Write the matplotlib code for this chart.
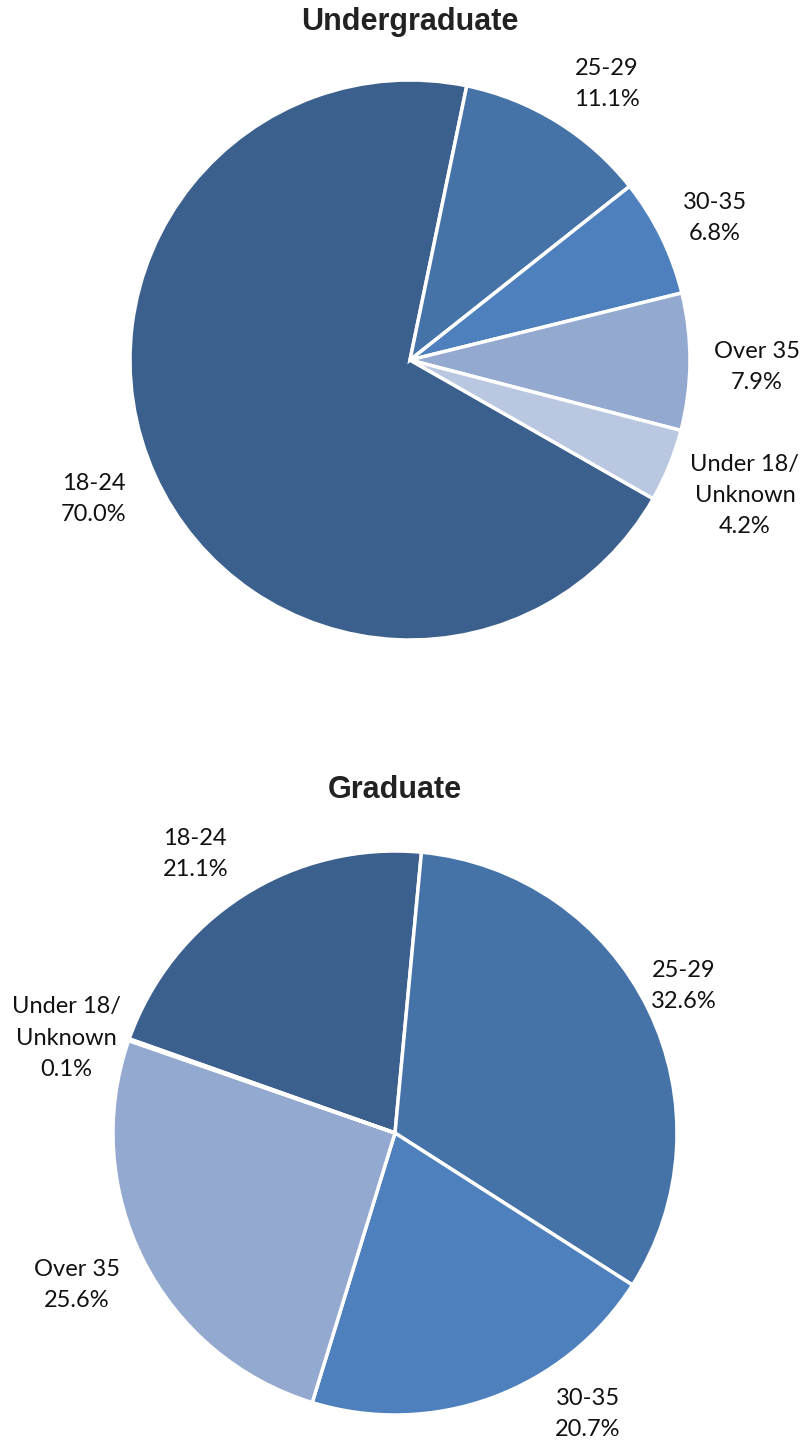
import matplotlib.pyplot as plt
import math

labels = ['18-24', '25-29', '30-35', 'Over 35', 'Under 18/\nUnknown']
undergrad = [70.0, 11.1, 6.8, 7.9, 4.2]
grad = [21.1, 32.6, 20.7, 25.6, 0.1]
colors = ['#3c608d', '#4572a7', '#4d80bc', '#94a9cf', '#b9c7e0']

# label placement (angle in degrees, distance in radii), as Excel put them
ug_label_pos = [(203.7, 1.233), (54.5, 1.211), (25.0, 1.201), (-1.2, 1.240), (-22.0, 1.290)]
gr_label_pos = [(125.6, 1.217), (27.0, 1.150), (-55.5, 1.209), (205.5, 1.250), (163.9, 1.214)]

W, H = 809, 1444
fig = plt.figure(figsize=(W / 100, H / 100), dpi=100)


def draw_pie(cx, cy, r, vals, title, title_y, start, label_pos):
    # axes sized so that radius 1 == r pixels
    lim = 1.3
    size = 2 * lim * r
    ax = fig.add_axes([(cx - size / 2) / W, (H - cy - size / 2) / H, size / W, size / H])
    txt = [f'{l}\n{v:.1f}%' for l, v in zip(labels, vals)]
    wedges, texts = ax.pie(vals, colors=colors, labels=txt, startangle=start,
                           counterclock=False, labeldistance=1.21,
                           wedgeprops=dict(edgecolor='white', linewidth=2.5),
                           textprops=dict(fontsize=17, family='Lato', linespacing=1.6,
                                          color='#111111'))
    for t, (ang, d) in zip(texts, label_pos):
        t.set_ha('center')
        t.set_va('center')
        t.set_position((d * math.cos(math.radians(ang)), d * math.sin(math.radians(ang))))
    ax.set_xlim(-lim, lim)
    ax.set_ylim(-lim, lim)
    ax.set_aspect('equal')
    ax.axis('off')
    fig.text(cx / W, 1 - title_y / H, title, ha='center', va='center',
             fontsize=22, fontweight='bold', family='Liberation Sans', color='#222222')
    return ax


draw_pie(410, 360, 280, undergrad, 'Undergraduate', 22, 330.3, ug_label_pos)
draw_pie(395, 1133, 282, grad, 'Graduate', 790, 160.5, gr_label_pos)

plt.savefig('out.png', dpi=100)
